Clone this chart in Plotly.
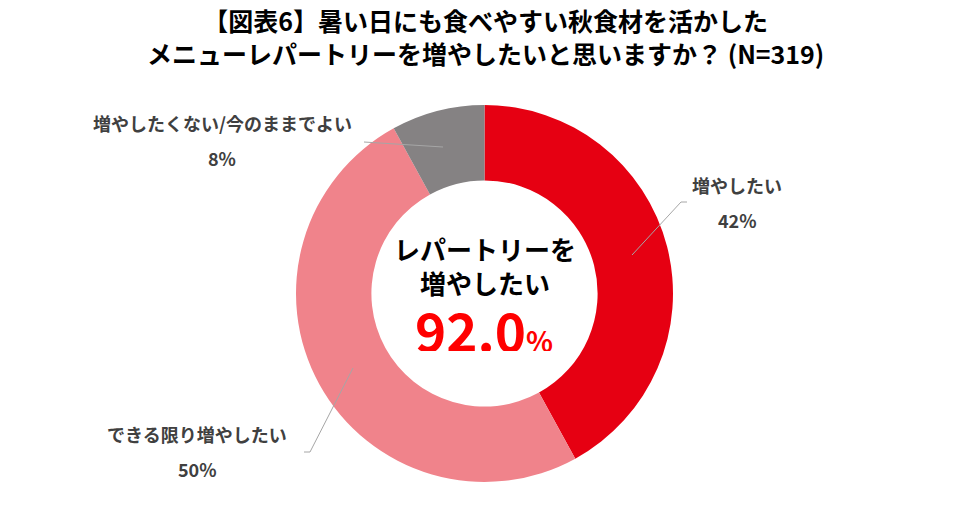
import plotly.graph_objects as go

W, H = 970, 526

# data
labels = ['増やしたい', 'できる限り増やしたい', '増やしたくない/今のままでよい']
values = [42, 50, 8]
colors = ['#E60012', '#F0838B', '#858283']
total_want = 92.0

title_lines = ['【図表6】暑い日にも食べやすい秋食材を活かした',
               'メニューレパートリーを増やしたいと思いますか？ (N=319)']
center_lines = ['レパートリーを', '増やしたい']

FONT = 'Noto Sans CJK JP'


def px(x, y):
    """pixel -> paper coords"""
    return x / W, 1 - y / H


fig = go.Figure()

dx0, dy0 = px(296, 482)
dx1, dy1 = px(673, 105)
fig.add_trace(go.Pie(
    labels=labels,
    values=values,
    marker=dict(colors=colors, line=dict(width=0)),
    hole=0.6,
    sort=False,
    direction='clockwise',
    rotation=0,
    textinfo='none',
    hoverinfo='label+percent',
    domain=dict(x=[dx0, dx1], y=[dy0, dy1]),
    showlegend=False,
))

annotations = []

# title (two lines in one block)
x, y = px(485, 36)
annotations.append(dict(
    text='<b>%s</b>' % '<br>'.join(title_lines), x=x, y=y,
    xref='paper', yref='paper', showarrow=False,
    font=dict(family=FONT, size=25, color='#000000'),
    xanchor='center', yanchor='middle'))

# slice labels outside
label_pos = [(737, 185), (197, 434), (222, 123)]
for lab, val, (lx, ly) in zip(labels, values, label_pos):
    x, y = px(lx, ly)
    annotations.append(dict(
        text='<b>%s</b>' % lab, x=x, y=y, xref='paper', yref='paper',
        showarrow=False, font=dict(family=FONT, size=18, color='#404040'),
        xanchor='center', yanchor='middle'))
    x, y = px(lx, ly + 35)
    annotations.append(dict(
        text='<b>%d%%</b>' % val, x=x, y=y, xref='paper', yref='paper',
        showarrow=False, font=dict(family=FONT, size=18, color='#404040'),
        xanchor='center', yanchor='middle'))

# center text
x, y = px(485, 265)
annotations.append(dict(
    text='<b>%s</b>' % '<br>'.join(center_lines), x=x, y=y,
    xref='paper', yref='paper', showarrow=False,
    font=dict(family=FONT, size=26, color='#000000'),
    xanchor='center', yanchor='middle'))
x, y = px(484, 329)
annotations.append(dict(
    text='<b>%.1f<span style="font-size:28px">%%</span></b>' % total_want,
    x=x, y=y, xref='paper', yref='paper', showarrow=False,
    font=dict(family=FONT, size=53, color='#FF0000'),
    xanchor='center', yanchor='middle', height=44, valign='middle'))

# leader lines
leaders = [
    [(632, 255), (681, 202), (687, 202)],
    [(353, 368), (310, 452), (304, 452)],
    [(443, 147), (364, 142)],
]
shapes = []
for pts in leaders:
    for (x0, y0), (x1, y1) in zip(pts[:-1], pts[1:]):
        a0, b0 = px(x0, y0)
        a1, b1 = px(x1, y1)
        shapes.append(dict(type='line', xref='paper', yref='paper',
                           x0=a0, y0=b0, x1=a1, y1=b1,
                           line=dict(color='#A6A6A6', width=1)))

fig.update_layout(
    width=W, height=H,
    margin=dict(l=0, r=0, t=0, b=0),
    paper_bgcolor='white',
    plot_bgcolor='white',
    annotations=annotations,
    shapes=shapes,
    font=dict(family=FONT),
)

# drop the default body margin so the figure sits at the page corner
fig.write_html("out.html", config={'displayModeBar': False},
               post_script="document.body.style.margin='0';")
